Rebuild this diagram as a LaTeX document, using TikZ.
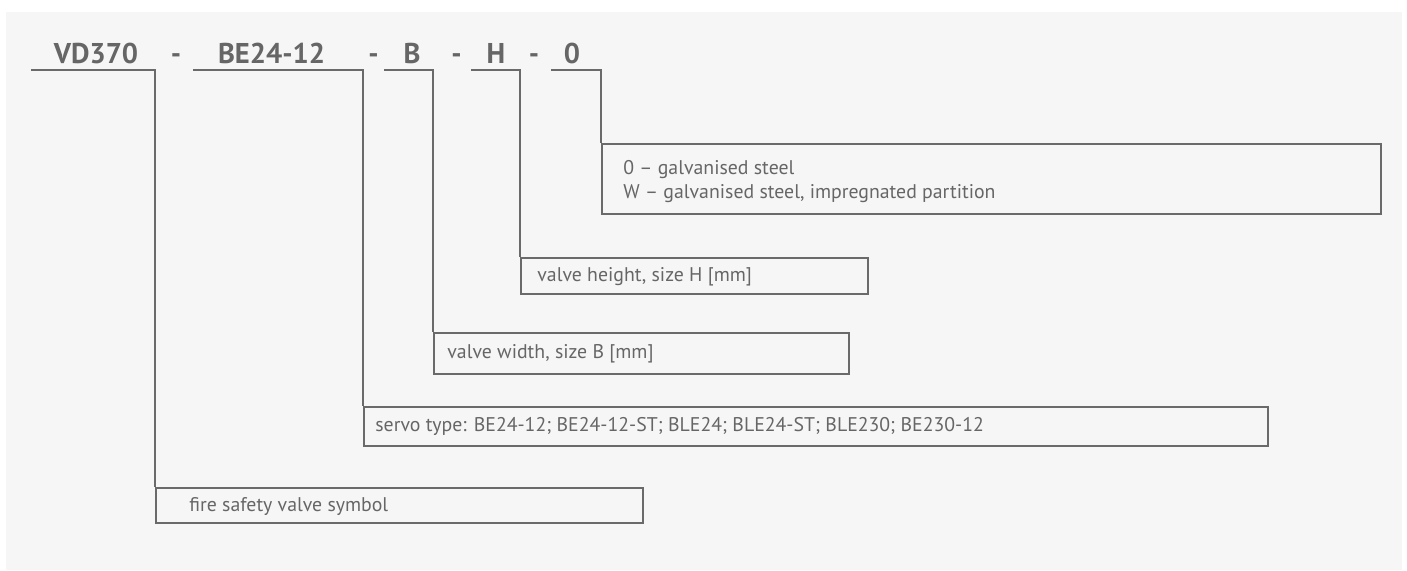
\documentclass[tikz,border=0pt]{standalone}
\usepackage{fontspec}
\setmainfont{PT Sans}
\definecolor{bgc}{HTML}{F6F6F6}
\definecolor{ink}{HTML}{666666}
\definecolor{linec}{HTML}{6A6A6A}
\tikzset{
  ttl/.style={anchor=base, inner sep=0pt, text=ink, font=\fontsize{14.3}{16}\selectfont\bfseries},
  lbl/.style={anchor=base west, inner sep=0pt, text=ink, font=\fontsize{9.9}{12}\selectfont},
  box/.style={draw=linec, line width=1pt, anchor=north west, inner sep=0pt},
  conn/.style={draw=linec, line width=1pt},
}
\begin{document}
\begin{tikzpicture}[x=0.5pt,y=-0.5pt]
\useasboundingbox (0,0) rectangle (1407,570);
\fill[white] (0,0) rectangle (1407,570);
\fill[bgc] (6,12) rectangle (1402,570);

% titles
\node[ttl] (t1) at (96,63) {VD370};
\node[ttl] (d1) at (176,63) {-};
\node[ttl] (t2) at (271.5,63) {BE24-12};
\node[ttl] (d2) at (373.5,63) {-};
\node[ttl] (t3) at (412,63) {B};
\node[ttl] (d3) at (456.5,63) {-};
\node[ttl] (t4) at (496,63) {H};
\node[ttl] (d4) at (534,63) {-};
\node[ttl] (t5) at (572,63) {0};

% underline start points
\coordinate (u1) at (31,70);
\coordinate (u2) at (193,70);
\coordinate (u3) at (384,70);
\coordinate (u4) at (471,70);
\coordinate (u5) at (551,70);

% boxes
\node[box, minimum width=243.5pt, minimum height=17.5pt] (fire) at (155,487) {};
\node[box, minimum width=452pt, minimum height=19.5pt] (servo) at (363,406) {};
\node[box, minimum width=207.5pt, minimum height=20.5pt] (wid) at (433,332) {};
\node[box, minimum width=173.5pt, minimum height=18pt] (hei) at (520,257) {};
\node[box, minimum width=389.5pt, minimum height=35pt] (steel) at (601,143) {};

% connectors
\draw[conn] (u1) -| (fire.north west);
\draw[conn] (u2) -| (servo.north west);
\draw[conn] (u3) -| (wid.north west);
\draw[conn] (u4) -| (hei.north west);
\draw[conn] (u5) -| (steel.north west);

% labels
\node[lbl] (lfire) at (189,511) {fire safety valve symbol};
\node[lbl] (lservo) at (375,431) {servo type: BE24-12; BE24-12-ST; BLE24; BLE24-ST; BLE230; BE230-12};
\node[lbl] (lwid) at (447,358) {valve width, size B [mm]};
\node[lbl] (lhei) at (537,281) {valve height, size H [mm]};
\node[lbl] (ls1) at (623,174) {0 – galvanised steel};
\node[lbl] (ls2) at (623,198) {W – galvanised steel, impregnated partition};
\end{tikzpicture}
\end{document}
